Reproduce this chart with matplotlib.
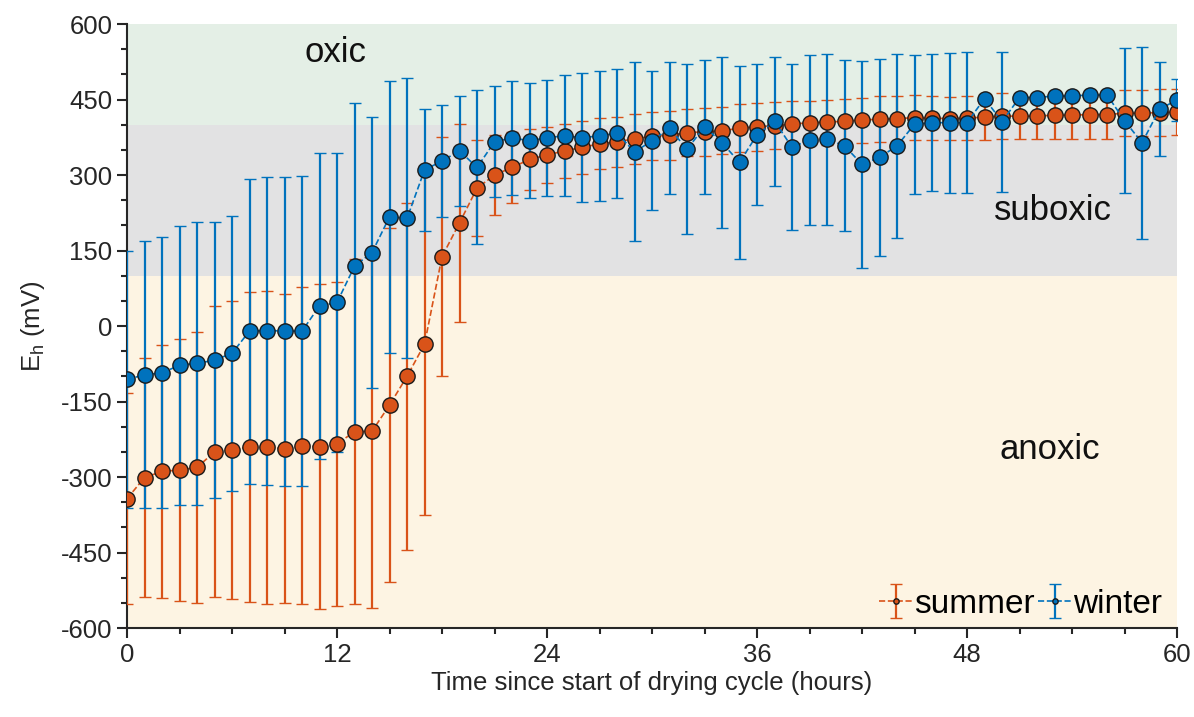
import matplotlib
matplotlib.use("Agg")
import matplotlib.pyplot as plt
from matplotlib.ticker import MultipleLocator
import numpy as np

plt.rcParams['font.family'] = ['Liberation Sans', 'DejaVu Sans']
plt.rcParams['axes.unicode_minus'] = False

hours = np.arange(0, 61)

summer_mean = [-343, -301, -289, -286, -281, -250, -246, -240, -241, -244,
               -238, -240, -234, -210, -209, -157, -100, -36, 138, 205,
               274, 300, 315, 331, 340, 348, 355, 362, 366, 372,
               377, 379, 384, 386, 388, 393, 396, 398, 401, 404,
               405, 407, 409, 411, 412, 414, 413, 412, 413, 415,
               417, 417, 417, 419, 419, 420, 420, 423, 423, 424, 425]
summer_err = [209, 238, 252, 260, 270, 289, 296, 308, 311, 307,
              315, 323, 322, 343, 352, 351, 344, 340, 237, 197,
              96, 79, 70, 60, 56, 54, 53, 51, 50, 50,
              48, 49, 47, 48, 47, 48, 48, 47, 46, 44,
              45, 44, 45, 45, 44, 44, 43, 43, 44, 45,
              45, 46, 46, 47, 48, 48, 48, 45, 46, 46, 45]

winter_mean = [-106, -97, -93, -78, -74, -68, -54, -10, -9, -10,
               -10, 40, 47, 119, 146, 217, 214, 310, 328, 348,
               315, 366, 374, 368, 374, 378, 374, 378, 383, 346,
               368, 393, 351, 396, 364, 325, 380, 407, 355, 370,
               371, 358, 321, 335, 358, 401, 404, 404, 404, 452,
               406, 454, 454, 457, 457, 459, 459, 408, 364, 431, 449]
winter_err = [255, 265, 269, 277, 281, 274, 273, 303, 306, 307,
              308, 304, 297, 325, 269, 270, 278, 121, 112, 109,
              153, 110, 113, 114, 115, 120, 128, 129, 128, 178,
              138, 131, 169, 133, 170, 192, 140, 128, 165, 169,
              170, 170, 205, 196, 183, 138, 136, 139, 140, 0,
              139, 0, 0, 0, 0, 0, 0, 144, 191, 94, 42]

# redox zones (mV)
zones = [(-600, 100, '#fdf4e3', 'anoxic', (52.7, -246)),
         (100, 400, '#e2e2e3', 'suboxic', (52.9, 230)),
         (400, 600, '#e4efe6', 'oxic', (11.9, 544))]

fig = plt.figure(figsize=(11.94, 7.17), dpi=100)
ax = fig.add_axes([0.1064, 0.1241, 0.8794, 0.8424])

for lo, hi, col, name, pos in zones:
    ax.axhspan(lo, hi, color=col, zorder=0, lw=0)
    ax.text(pos[0], pos[1], name, fontsize=25, ha='center', va='center',
            color='#111111', zorder=1)

c_summer = '#d95319'
c_winter = '#0072bd'

for mean, err, col, lab in [(summer_mean, summer_err, c_summer, 'summer'),
                            (winter_mean, winter_err, c_winter, 'winter')]:
    ax.errorbar(hours, mean, yerr=err, color=col, ecolor=col, elinewidth=1.6,
                capsize=4, capthick=1.4, linestyle='--', linewidth=1.2,
                marker='o', markersize=11, markerfacecolor=col,
                markeredgecolor='#1a1a1a', markeredgewidth=1.0,
                label=lab, zorder=3)

ax.set_xlim(0, 60)
ax.set_ylim(-600, 600)
ax.xaxis.set_major_locator(MultipleLocator(12))
ax.xaxis.set_minor_locator(MultipleLocator(3))
ax.yaxis.set_major_locator(MultipleLocator(150))
ax.yaxis.set_minor_locator(MultipleLocator(50))

for s in ['top', 'right']:
    ax.spines[s].set_visible(False)
for s in ['left', 'bottom']:
    ax.spines[s].set_linewidth(1.5)
    ax.spines[s].set_color('#262626')

ax.tick_params(which='major', direction='out', length=7.5, width=1.5,
               colors='#262626', labelsize=18.5, pad=3)
ax.tick_params(which='minor', direction='out', length=4.5, width=1.5,
               colors='#262626')

ax.set_xlabel('Time since start of drying cycle (hours)', fontsize=18.5,
              color='#262626', labelpad=3)
ax.set_ylabel('E$_\\mathregular{h}$ (mV)', fontsize=18.5, color='#262626',
              labelpad=10)

ax.legend(loc='lower right', bbox_to_anchor=(0.994, 0.0), ncol=2,
          frameon=False, fontsize=24, markerscale=0.35, handlelength=1.0,
          handletextpad=0.05, columnspacing=0.1, borderaxespad=0.0,
          borderpad=0.25)

fig.savefig('out.png', dpi=100)
